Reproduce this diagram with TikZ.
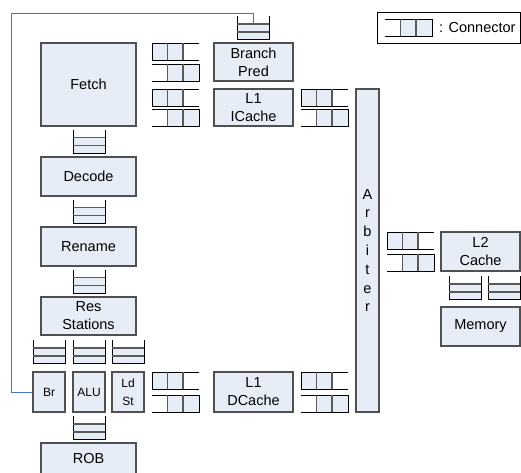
\documentclass[tikz,border=0pt]{standalone}
\usepackage{fontspec}
\setmainfont{Liberation Sans}
\definecolor{cfill}{RGB}{231,237,247}
\definecolor{cblue}{RGB}{68,114,196}
\definecolor{cedge}{RGB}{80,80,80}
\tikzset{
  box/.style={draw=cedge, fill=cfill, line width=1.2pt, align=center, inner sep=0pt,
    font=\fontsize{14.5}{18}\selectfont},
  smallbox/.style={box, font=\fontsize{12}{18}\selectfont},
  cline/.style={draw=black, line width=0.9pt},
  cdiv/.style={draw=black!65, line width=1.1pt},
  hqa/.pic={
    \fill[cfill] (0,0) rectangle (31,17);
    \draw[cline] (47,0) -- (0,0) -- (0,17) -- (47,17);
    \draw[cdiv] (15.5,0) -- (15.5,17) (31,0) -- (31,17);
  },
  hqb/.pic={
    \fill[cfill] (15.5,0) rectangle (47,17);
    \draw[cline] (0,0) -- (47,0) -- (47,17) -- (0,17);
    \draw[cdiv] (15.5,0) -- (15.5,17) (31,0) -- (31,17);
  },
  vq/.pic={
    \fill[cfill] (0,8) rectangle (32,23.5);
    \draw[cline] (0,0) -- (0,23.5) -- (32,23.5) -- (32,0);
    \draw[cdiv] (0,8) -- (32,8) (0,16) -- (32,16);
  },
  blueline/.style={draw=cblue, line width=1pt}
}
\begin{document}
\begin{tikzpicture}[x=1pt, y=-1pt]
\useasboundingbox (0,0) rectangle (521,472);
\clip (0,0) rectangle (521,472);

% main boxes
\node[box, minimum width=95pt, minimum height=83pt] (fetch) at (88.5,84.5) {Fetch};
\node[box, minimum width=79pt, minimum height=38pt] (bpred) at (253.5,62) {Branch\\Pred};
\node[box, minimum width=79pt, minimum height=37pt] (icache) at (253.5,107.5) {L1\\ICache};
\node[box, minimum width=95pt, minimum height=39pt] (decode) at (88.5,176.5) {Decode};
\node[box, minimum width=95pt, minimum height=39pt] (rename) at (88.5,246.5) {Rename};
\node[box, minimum width=95pt, minimum height=38pt] (res) at (88.5,316) {Res\\Stations};
\node[smallbox, minimum width=32pt, minimum height=40pt] (br) at (49,392) {Br};
\node[smallbox, minimum width=32pt, minimum height=40pt] (alu) at (89,392) {ALU};
\node[smallbox, minimum width=32pt, minimum height=40pt] (ldst) at (128,392) {Ld\\St};
\node[box, minimum width=79pt, minimum height=40pt] (dcache) at (253.5,392) {L1\\DCache};
\node[box, minimum width=95pt, minimum height=31pt] (rob) at (88.5,458.5) {ROB};
\node[box, minimum width=23pt, minimum height=323pt, font=\fontsize{14.5}{18.8}\selectfont] (arb) at (367.5,250.5) {A\\r\\b\\i\\t\\e\\r};
\node[box, minimum width=79pt, minimum height=39pt] (l2) at (480.5,251.5) {L2\\Cache};
\node[box, minimum width=79pt, minimum height=39pt] (mem) at (480.5,326.5) {Memory};

% legend
\node[draw=black, line width=0.9pt, fill=white, minimum width=143pt, minimum height=31pt, inner sep=0pt] (legend) at (448.5,27.5) {};
\pic at (385,19) {hqb};
\node[anchor=west, inner sep=0pt, font=\fontsize{14.5}{16}\selectfont] (legtext) at (439,27.5) {: Connector};

% horizontal connectors
\pic at (152,43) {hqa};
\pic at (152,64) {hqb};
\pic at (152,89) {hqa};
\pic at (152,109) {hqb};
\pic at (301,89) {hqa};
\pic at (301,109) {hqb};
\pic at (152,372) {hqa};
\pic at (152,395) {hqb};
\pic at (301,372) {hqa};
\pic at (301,395) {hqb};
\pic at (387,232) {hqa};
\pic at (387,254) {hqb};

% vertical connectors
\pic at (237,16) {vq};
\pic at (73,129.5) {vq};
\pic at (73,199.5) {vq};
\pic at (73,269.5) {vq};
\pic at (33,340) {vq};
\pic at (73,340) {vq};
\pic at (112,340) {vq};
\pic at (73,416) {vq};
\pic at (449,276) {vq};
\pic at (488,276) {vq};

% blue feedback line
\coordinate (bpin) at (253.5,24);
\draw[blueline] (br.west) -| (11,13) -| (bpin);
\end{tikzpicture}
\end{document}
